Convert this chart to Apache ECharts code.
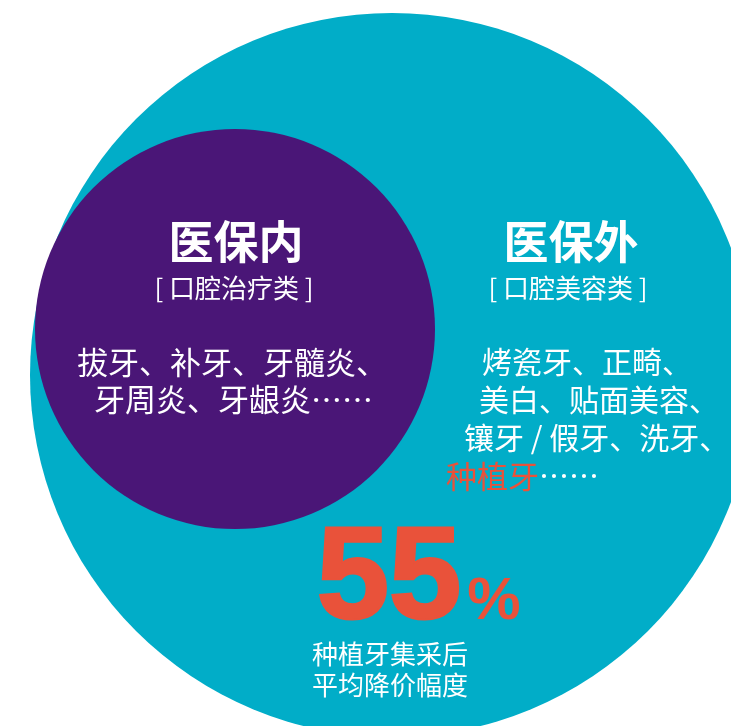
<!DOCTYPE html>
<html>
<head>
<meta charset="utf-8">
<script src="https://cdn.jsdelivr.net/npm/echarts@6/dist/echarts.min.js"></script>
<style>
html,body{margin:0;padding:0;background:#fff;}
#c{width:731px;height:726px;}
</style>
</head>
<body>
<div id="c"></div>
<script>
// ---- content ----
const titles = ['医保内', '医保外'];
const subtitles = ['[ 口腔治疗类 ]', '[ 口腔美容类 ]'];
const leftItems = ['拔牙、补牙、牙髓炎、', '牙周炎、牙龈炎……'];
const rightItems = ['烤瓷牙、正畸、', '美白、贴面美容、', '镶牙 / 假牙、洗牙、'];
const highlightItem = '种植牙';
const ellipsis = '……';
const dropValue = 55;
const dropUnit = '%';
const dropCaption = ['种植牙集采后', '平均降价幅度'];

// ---- style ----
const TEAL = '#01ADC8';
const PURPLE = '#4A1677';
const RED = '#E9523A';
const CJK = '"Noto Sans CJK SC", "Noto Sans", sans-serif';
const LAT = '"Liberation Sans", Arial, sans-serif';

const chart = echarts.init(document.getElementById('c'), null, {renderer: 'canvas'});

function txt(x, y, text, size, opts) {
  opts = opts || {};
  return {
    type: 'text', x: x, y: y, z: 10,
    style: Object.assign({
      text: text, fill: '#fff', fontSize: size, fontFamily: CJK,
      fontWeight: opts.bold ? 'bold' : 'normal',
      align: opts.align || 'center', verticalAlign: 'middle'
    }, opts.style || {})
  };
}

const graphics = [
  {type: 'circle', shape: {cx: 392, cy: 375, r: 362}, style: {fill: TEAL}, z: 1},
  {type: 'circle', shape: {cx: 235, cy: 329, r: 200}, style: {fill: PURPLE}, z: 2},
  txt(236, 242, titles[0], 45, {bold: true}),
  txt(571, 242, titles[1], 45, {bold: true}),
  txt(234, 288, subtitles[0], 26),
  txt(568, 288, subtitles[1], 26),
  txt(77, 362, leftItems[0], 31, {align: 'left'}),
  txt(94, 399, leftItems[1], 31, {align: 'left'}),
  txt(482, 362, rightItems[0], 30, {align: 'left'}),
  txt(479, 400, rightItems[1], 30, {align: 'left'}),
  txt(464, 438, rightItems[2], 30, {align: 'left'}),
  {
    type: 'text', x: 446, y: 476, z: 10,
    style: {
      text: '{r|' + highlightItem + '}{w|' + ellipsis + '}',
      align: 'left', verticalAlign: 'middle',
      rich: {
        r: {fill: RED, fontSize: 31, fontFamily: CJK},
        w: {fill: '#fff', fontSize: 30, fontFamily: CJK}
      }
    }
  },
  txt(389, 582, String(dropValue), 130, {bold: true, style: {fill: RED, fontFamily: LAT, stroke: RED, lineWidth: 3}}),
  txt(494, 602, dropUnit, 60, {bold: true, style: {fill: RED, fontFamily: LAT}}),
  txt(390, 654, dropCaption[0], 26),
  txt(390, 685, dropCaption[1], 26)
];

chart.setOption({
  backgroundColor: '#fff',
  animation: false,
  graphic: {elements: graphics}
});
</script>
</body>
</html>
